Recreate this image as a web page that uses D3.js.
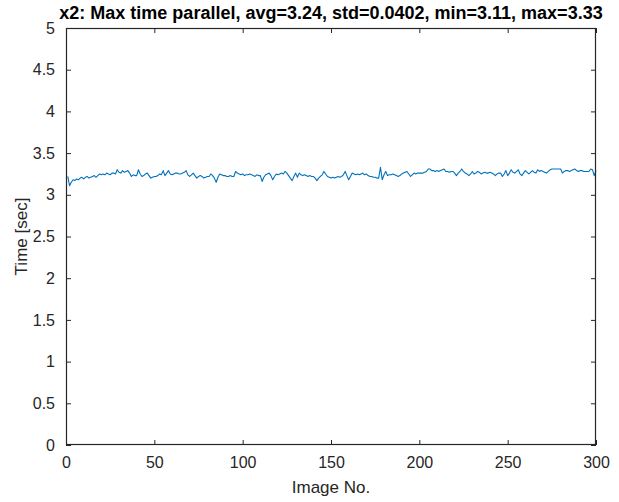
<!DOCTYPE html>
<html><head><meta charset="utf-8">
<script src="https://cdn.jsdelivr.net/npm/d3@7"></script>
<style>body{margin:0;background:#fff}svg{display:block}text{font-family:"Liberation Sans",Arial,Helvetica,sans-serif}</style>
</head><body><svg id="c" width="619" height="502"></svg>
<script>
const titleText = "x2: Max time parallel, avg=3.24, std=0.0402, min=3.11, max=3.33";
const xLabel = "Image No.";
const yLabel = "Time [sec]";
const xTicks = [0,50,100,150,200,250,300];
const yTicks = [0,0.5,1,1.5,2,2.5,3,3.5,4,4.5,5];
const times = [
3.22,3.11,3.15,3.18,3.17,3.19,3.18,3.20,3.21,3.19,
3.21,3.22,3.20,3.21,3.22,3.23,3.21,3.23,3.25,3.24,
3.25,3.24,3.26,3.25,3.24,3.26,3.26,3.25,3.30,3.27,
3.26,3.29,3.27,3.28,3.29,3.26,3.22,3.24,3.23,3.23,
3.30,3.25,3.22,3.23,3.25,3.26,3.23,3.20,3.21,3.22,
3.22,3.23,3.25,3.24,3.29,3.23,3.26,3.29,3.25,3.24,
3.25,3.26,3.26,3.25,3.25,3.26,3.27,3.29,3.24,3.22,
3.24,3.26,3.23,3.20,3.22,3.23,3.22,3.20,3.21,3.22,
3.22,3.25,3.23,3.20,3.15,3.21,3.25,3.24,3.23,3.23,
3.22,3.22,3.23,3.22,3.22,3.28,3.26,3.25,3.24,3.25,
3.23,3.24,3.24,3.25,3.24,3.23,3.22,3.24,3.23,3.23,
3.16,3.21,3.24,3.25,3.26,3.23,3.18,3.22,3.25,3.24,
3.25,3.26,3.25,3.28,3.26,3.23,3.20,3.17,3.22,3.26,
3.21,3.26,3.24,3.23,3.24,3.23,3.22,3.23,3.22,3.22,
3.20,3.17,3.20,3.22,3.24,3.28,3.25,3.22,3.21,3.20,
3.21,3.20,3.21,3.22,3.21,3.22,3.24,3.28,3.23,3.18,
3.22,3.26,3.25,3.24,3.25,3.24,3.25,3.26,3.24,3.25,
3.23,3.22,3.22,3.21,3.21,3.20,3.20,3.33,3.18,3.24,
3.28,3.23,3.24,3.24,3.25,3.24,3.23,3.22,3.23,3.25,
3.26,3.27,3.28,3.25,3.22,3.24,3.26,3.25,3.26,3.26,
3.26,3.26,3.27,3.28,3.31,3.31,3.29,3.29,3.28,3.29,
3.28,3.29,3.30,3.31,3.28,3.28,3.27,3.28,3.28,3.26,
3.23,3.26,3.28,3.31,3.28,3.26,3.25,3.23,3.25,3.28,
3.25,3.26,3.28,3.27,3.25,3.26,3.27,3.26,3.26,3.27,
3.26,3.25,3.23,3.25,3.26,3.26,3.22,3.25,3.29,3.23,
3.26,3.30,3.27,3.26,3.28,3.30,3.25,3.23,3.26,3.29,
3.27,3.25,3.27,3.29,3.27,3.26,3.30,3.28,3.29,3.28,
3.27,3.26,3.28,3.30,3.31,3.31,3.31,3.31,3.31,3.31,
3.26,3.28,3.29,3.29,3.28,3.29,3.30,3.31,3.29,3.28,
3.29,3.29,3.28,3.28,3.28,3.28,3.31,3.30,3.23,3.29
];

const L=66, R=596, T=28, B=445;
const axisColor="#262626";
const svg=d3.select("#c");
const x=d3.scaleLinear().domain([0,300]).range([L,R]);
const y=d3.scaleLinear().domain([0,5]).range([B,T]);

// line
const line=d3.line().x((d,i)=>x(i+1)).y(d=>y(d));
svg.append("path").datum(times).attr("d",line).attr("fill","none")
  .attr("stroke","#0072BD").attr("stroke-width",1.1).attr("stroke-linejoin","round");

const tl=5;
function styleAxis(g){
  g.select(".domain").remove();
  g.selectAll(".tick line").attr("stroke",axisColor).attr("stroke-width",1);
  g.selectAll(".tick text").attr("fill",axisColor).attr("font-size","16px");
}
// bottom
svg.append("g").attr("transform",`translate(0,${B})`)
  .call(d3.axisBottom(x).tickValues(xTicks).tickSize(-tl).tickPadding(12).tickFormat(d3.format("d")))
  .call(styleAxis);
// top
svg.append("g").attr("transform",`translate(0,${T})`)
  .call(d3.axisTop(x).tickValues(xTicks).tickSize(-tl).tickFormat(""))
  .call(styleAxis);
// left
svg.append("g").attr("transform",`translate(${L},0)`)
  .call(d3.axisLeft(y).tickValues(yTicks).tickSize(-tl).tickPadding(11).tickFormat(d=>String(d)))
  .call(styleAxis);
// right
svg.append("g").attr("transform",`translate(${R},0)`)
  .call(d3.axisRight(y).tickValues(yTicks).tickSize(-tl).tickFormat(""))
  .call(styleAxis);

// box
svg.append("rect").attr("x",L+0.5).attr("y",T+0.5).attr("width",R-L-1).attr("height",B-T-1)
  .attr("fill","none").attr("stroke",axisColor).attr("stroke-width",1.2);

// title
svg.append("text").attr("x",(L+R)/2).attr("y",19).attr("text-anchor","middle")
  .attr("font-size","18px").attr("font-weight","bold").attr("fill","#000").text(titleText);
// x label
svg.append("text").attr("x",(L+R)/2).attr("y",493).attr("text-anchor","middle")
  .attr("font-size","17px").attr("fill",axisColor).text(xLabel);
// y label
svg.append("text").attr("transform",`translate(27,${(T+B)/2}) rotate(-90)`).attr("text-anchor","middle")
  .attr("font-size","17px").attr("fill",axisColor).text(yLabel);
</script></body></html>
